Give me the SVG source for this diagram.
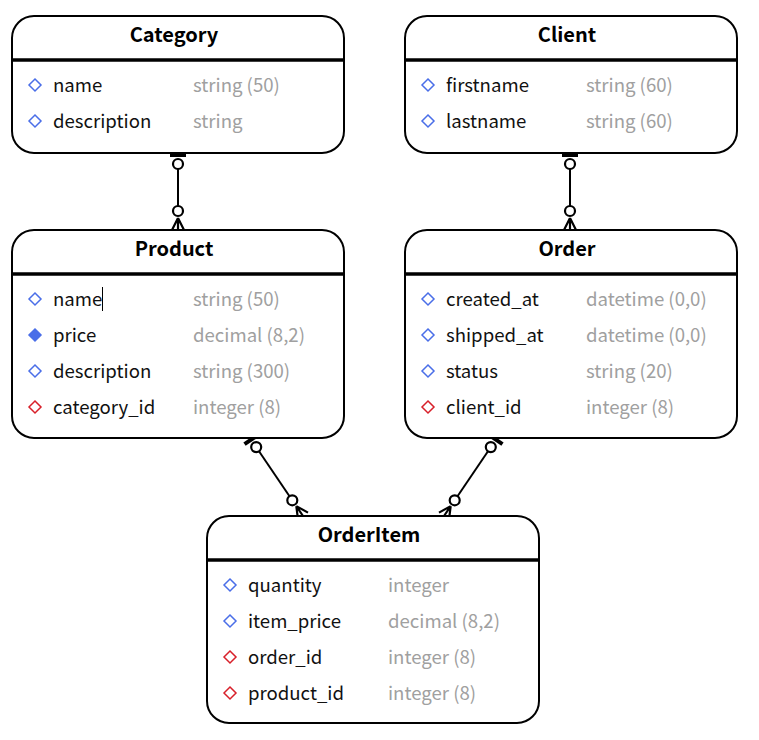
<svg xmlns="http://www.w3.org/2000/svg" width="759" height="740" viewBox="0 0 759 740">
<defs>
<style>
.box{fill:#fff;stroke:#000;stroke-width:2}
.sep{stroke:#000;stroke-width:3.5}
.title{font-family:"Noto Sans CJK SC","Noto Sans",sans-serif;font-weight:bold;font-size:20px;fill:#000;text-anchor:middle}
.f{font-family:"Noto Sans CJK SC","Noto Sans",sans-serif;font-size:18.6px;fill:#111}
.t{font-family:"Noto Sans CJK SC","Noto Sans",sans-serif;font-size:18.6px;fill:#a0a0a0}
.dk{fill:none;stroke:#4a6ee8;stroke-width:1.5}
.df{fill:#4a6ee8;stroke:#4a6ee8;stroke-width:1.5}
.dr{fill:none;stroke:#d8202a;stroke-width:1.5}
.ln{stroke:#000;stroke-width:2;fill:none}
.ft{stroke:#000;stroke-width:2.2;fill:none}
.bar{stroke:#000;stroke-width:4}
.c{fill:#fff;stroke:#000;stroke-width:2.2}
</style>
<path id="dia" d="M0,-6 L6,0 L0,6 L-6,0 Z"/>
</defs>

<g id="connectors">
  <!-- Category - Product -->
  <g>
    <line class="bar" x1="170" y1="155" x2="186" y2="155"/>
    <line class="ln" x1="178" y1="169" x2="178" y2="206"/>
    <circle class="c" cx="178" cy="164" r="5"/>
    <circle class="c" cx="178" cy="211" r="5"/>
    <path class="ft" d="M178,218 L172,230 M178,218 L178,230 M178,218 L184,230"/>
  </g>
  <!-- Client - Order -->
  <g>
    <line class="bar" x1="562" y1="155" x2="578" y2="155"/>
    <line class="ln" x1="570" y1="169" x2="570" y2="206"/>
    <circle class="c" cx="570" cy="164" r="5"/>
    <circle class="c" cx="570" cy="211" r="5"/>
    <path class="ft" d="M570,218 L564,230 M570,218 L570,230 M570,218 L576,230"/>
  </g>
  <!-- Product - OrderItem -->
  <g>
    <line class="bar" x1="257.7" y1="435.2" x2="244.5" y2="444.2"/>
    <line class="ln" x1="259" y1="451.2" x2="289.5" y2="496.2"/>
    <circle class="c" cx="256.2" cy="447.1" r="5"/>
    <circle class="c" cx="292.3" cy="500.3" r="5"/>
    <path class="ft" d="M296.3,506.1 L303,516 M296.3,506.1 L308,512.6 M296.3,506.1 L298,519.4"/>
  </g>
  <!-- Order - OrderItem -->
  <g>
    <line class="bar" x1="502.5" y1="444.2" x2="489.3" y2="435.2"/>
    <line class="ln" x1="488" y1="451.2" x2="457.5" y2="496.2"/>
    <circle class="c" cx="490.8" cy="447.1" r="5"/>
    <circle class="c" cx="454.7" cy="500.3" r="5"/>
    <path class="ft" d="M450.7,506.1 L444,516 M450.7,506.1 L449,519.4 M450.7,506.1 L439,512.6"/>
  </g>
</g>

<g id="category">
  <rect class="box" x="12" y="16" width="332" height="137" rx="22"/>
  <line class="sep" x1="12" y1="60" x2="344" y2="60"/>
  <text class="title" x="174" y="42">Category</text>
  <use href="#dia" class="dk" x="35" y="85"/>
  <text class="f" x="53" y="92">name</text>
  <text class="t" x="193" y="92">string (50)</text>
  <use href="#dia" class="dk" x="35" y="121"/>
  <text class="f" x="53" y="128">description</text>
  <text class="t" x="193" y="128">string</text>
</g>

<g id="client">
  <rect class="box" x="405" y="16" width="332" height="137" rx="22"/>
  <line class="sep" x1="405" y1="60" x2="737" y2="60"/>
  <text class="title" x="567" y="42">Client</text>
  <use href="#dia" class="dk" x="428" y="85"/>
  <text class="f" x="446" y="92">firstname</text>
  <text class="t" x="586" y="92">string (60)</text>
  <use href="#dia" class="dk" x="428" y="121"/>
  <text class="f" x="446" y="128">lastname</text>
  <text class="t" x="586" y="128">string (60)</text>
</g>

<g id="product">
  <rect class="box" x="12" y="230" width="332" height="208" rx="22"/>
  <line class="sep" x1="12" y1="274" x2="344" y2="274"/>
  <text class="title" x="174" y="256">Product</text>
  <use href="#dia" class="dk" x="35" y="299"/>
  <text class="f" x="53" y="306">name</text>
  <line x1="102.5" y1="287" x2="102.5" y2="311" stroke="#000" stroke-width="1"/>
  <text class="t" x="193" y="306">string (50)</text>
  <use href="#dia" class="df" x="35" y="335"/>
  <text class="f" x="53" y="342">price</text>
  <text class="t" x="193" y="342">decimal (8,2)</text>
  <use href="#dia" class="dk" x="35" y="371"/>
  <text class="f" x="53" y="378">description</text>
  <text class="t" x="193" y="378">string (300)</text>
  <use href="#dia" class="dr" x="35" y="407"/>
  <text class="f" x="53" y="414">category_id</text>
  <text class="t" x="193" y="414">integer (8)</text>
</g>

<g id="order">
  <rect class="box" x="405" y="230" width="332" height="208" rx="22"/>
  <line class="sep" x1="405" y1="274" x2="737" y2="274"/>
  <text class="title" x="567" y="256">Order</text>
  <use href="#dia" class="dk" x="428" y="299"/>
  <text class="f" x="446" y="306">created_at</text>
  <text class="t" x="586" y="306">datetime (0,0)</text>
  <use href="#dia" class="dk" x="428" y="335"/>
  <text class="f" x="446" y="342">shipped_at</text>
  <text class="t" x="586" y="342">datetime (0,0)</text>
  <use href="#dia" class="dk" x="428" y="371"/>
  <text class="f" x="446" y="378">status</text>
  <text class="t" x="586" y="378">string (20)</text>
  <use href="#dia" class="dr" x="428" y="407"/>
  <text class="f" x="446" y="414">client_id</text>
  <text class="t" x="586" y="414">integer (8)</text>
</g>

<g id="orderitem">
  <rect class="box" x="207" y="516" width="332" height="207" rx="22"/>
  <line class="sep" x1="207" y1="560" x2="539" y2="560"/>
  <text class="title" x="369" y="542">OrderItem</text>
  <use href="#dia" class="dk" x="230" y="585"/>
  <text class="f" x="248" y="592">quantity</text>
  <text class="t" x="388" y="592">integer</text>
  <use href="#dia" class="dk" x="230" y="621"/>
  <text class="f" x="248" y="628">item_price</text>
  <text class="t" x="388" y="628">decimal (8,2)</text>
  <use href="#dia" class="dr" x="230" y="657"/>
  <text class="f" x="248" y="664">order_id</text>
  <text class="t" x="388" y="664">integer (8)</text>
  <use href="#dia" class="dr" x="230" y="693"/>
  <text class="f" x="248" y="700">product_id</text>
  <text class="t" x="388" y="700">integer (8)</text>
</g>
</svg>
